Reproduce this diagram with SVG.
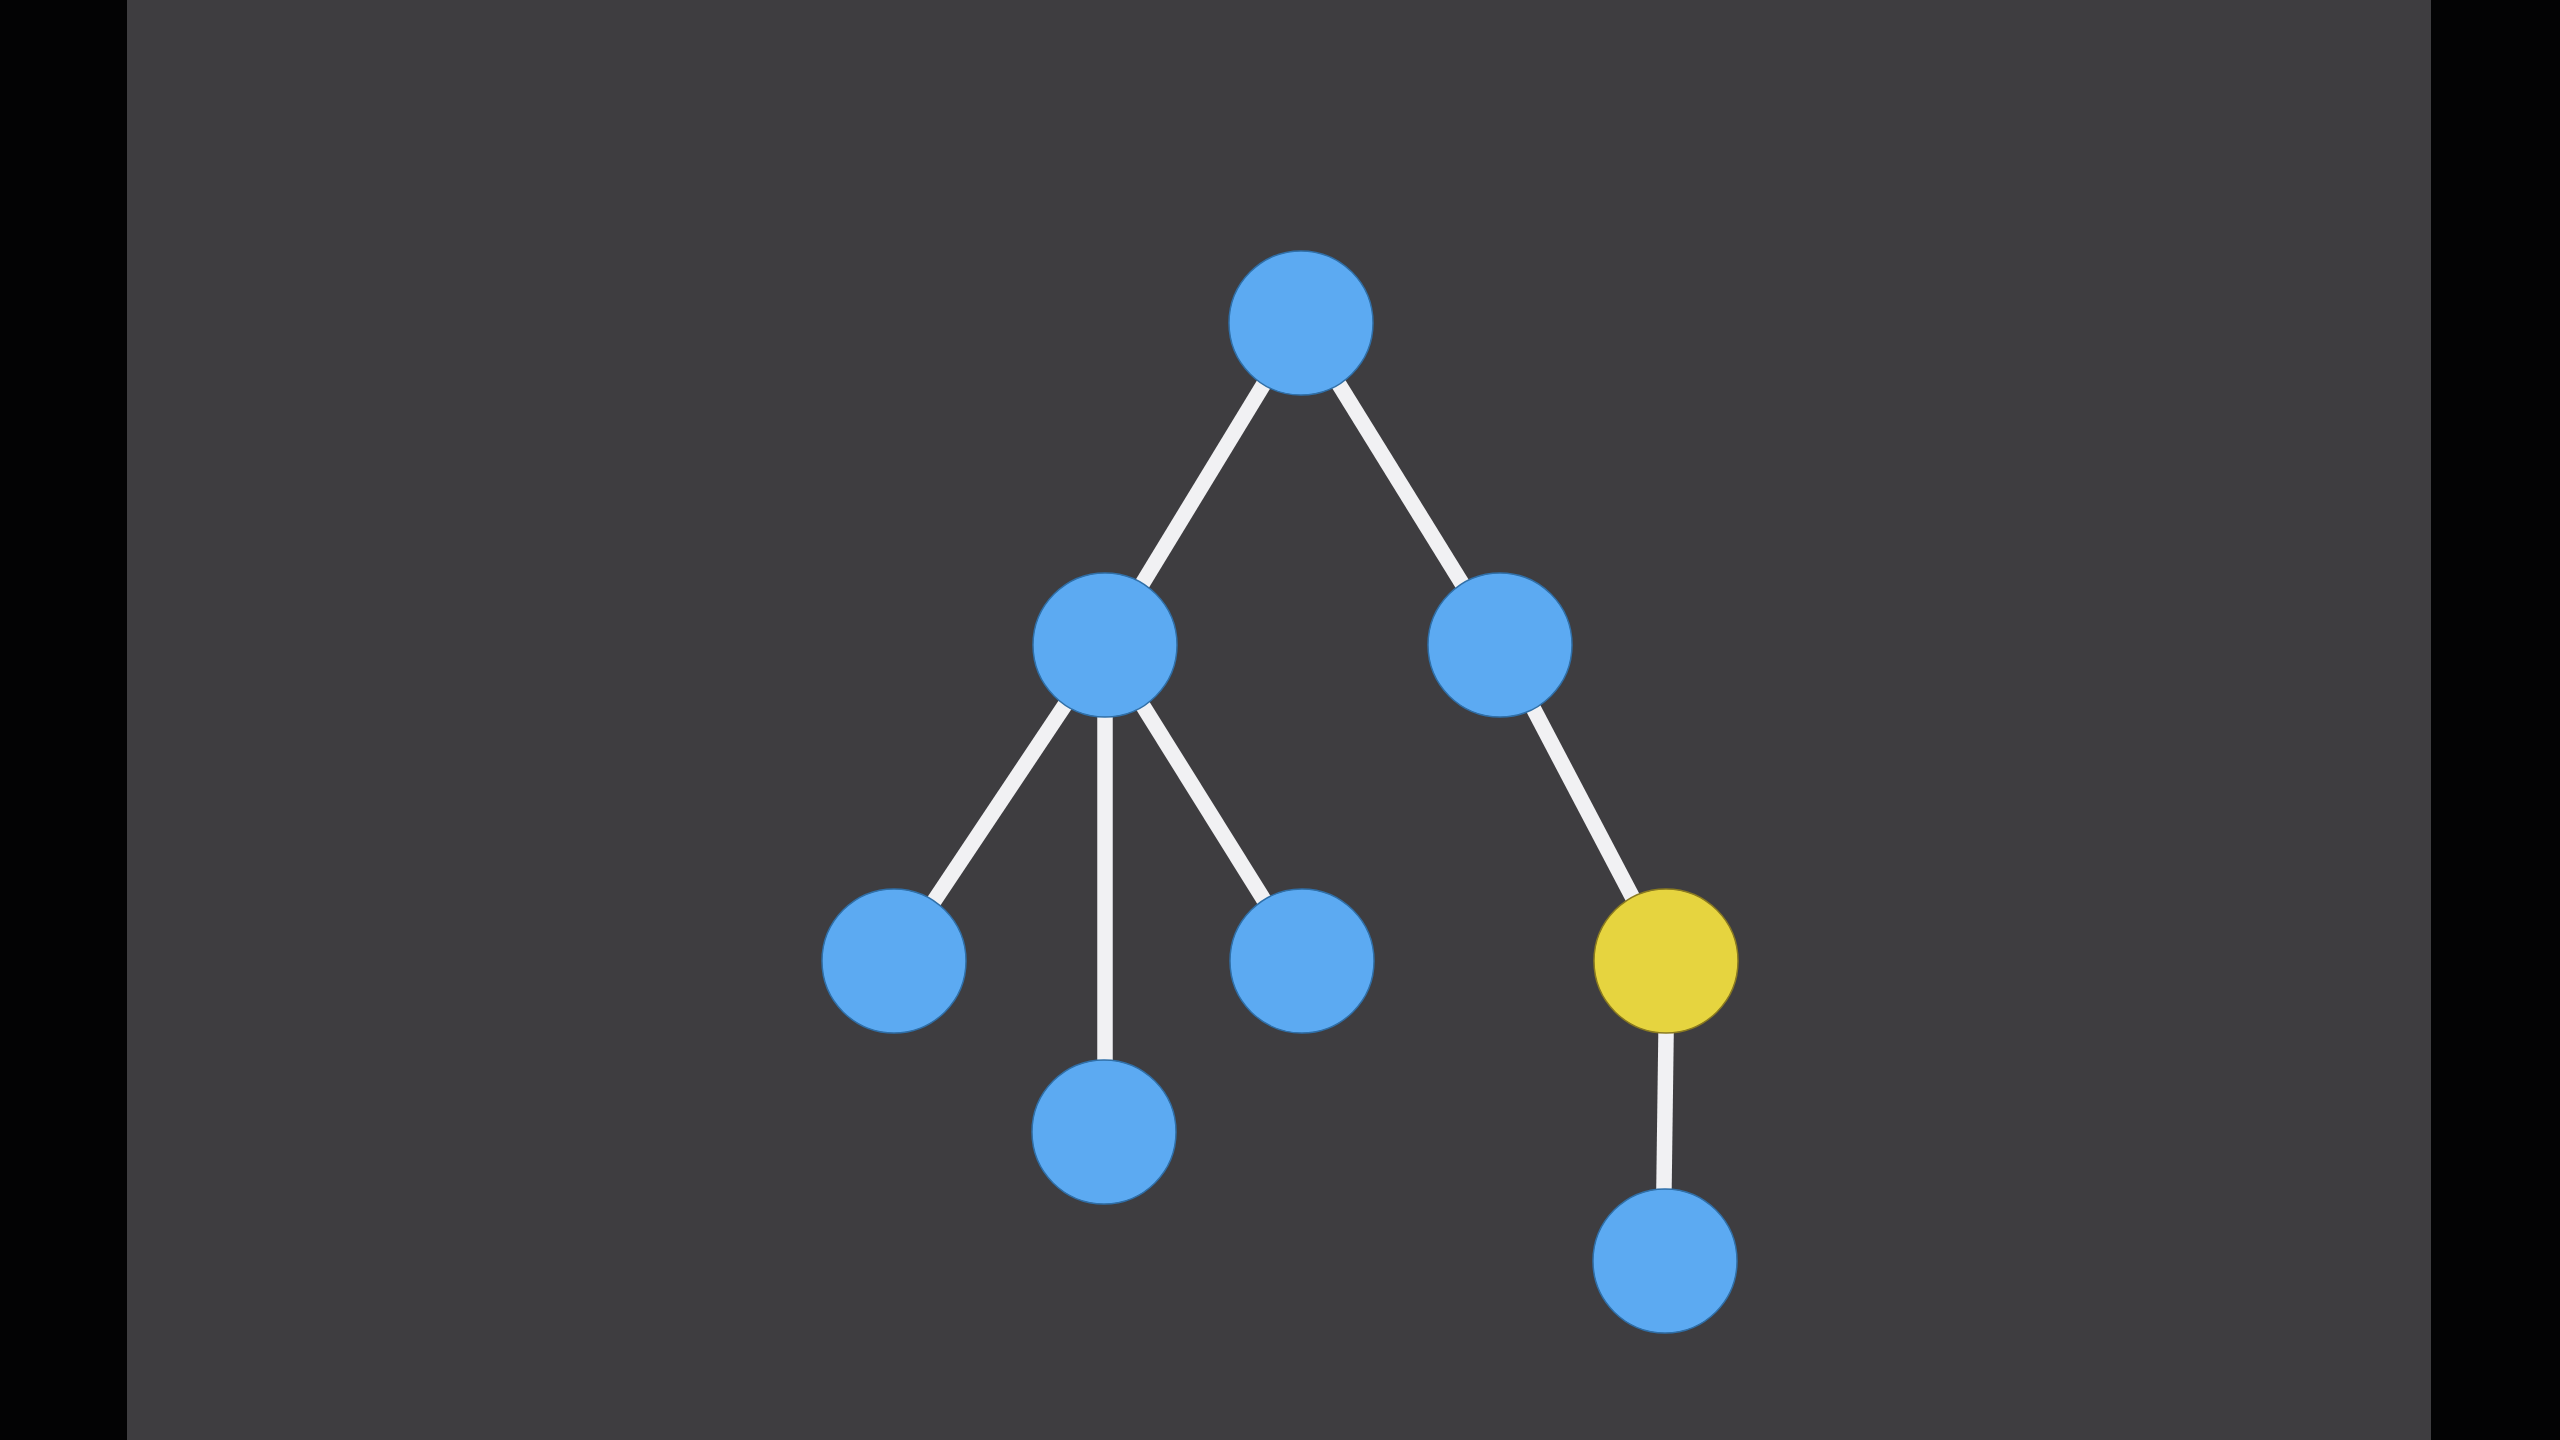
<svg xmlns="http://www.w3.org/2000/svg" width="2560" height="1440" viewBox="0 0 2560 1440">
  <style>
    .edge { stroke: #f1f1f3; stroke-width: 15.5; stroke-linecap: butt; fill: none; }
    .node { fill: #5caaf2; stroke: #2f6fa8; stroke-width: 1.5; }
    .node.hl { fill: #e6d43f; stroke: #8a7a20; }
  </style>
  <!-- letterbox and canvas -->
  <rect x="0" y="0" width="2560" height="1440" fill="#030304"/>
  <rect x="127" y="0" width="2304" height="1440" fill="#3e3d40"/>

  <g id="edges">
    <line class="edge" x1="1301" y1="323" x2="1105" y2="645"/>
    <line class="edge" x1="1301" y1="323" x2="1500" y2="645"/>
    <line class="edge" x1="1105" y1="645" x2="894" y2="961"/>
    <line class="edge" x1="1105" y1="645" x2="1105" y2="1132"/>
    <line class="edge" x1="1105" y1="645" x2="1302" y2="961"/>
    <line class="edge" x1="1500" y1="645" x2="1666" y2="961"/>
    <line class="edge" x1="1667" y1="961" x2="1663" y2="1261"/>
  </g>

  <g id="n-root"><circle class="node" cx="1301" cy="323" r="72"/></g>
  <g id="n-left"><circle class="node" cx="1105" cy="645" r="72"/></g>
  <g id="n-right"><circle class="node" cx="1500" cy="645" r="72"/></g>
  <g id="n-left-a"><circle class="node" cx="894" cy="961" r="72"/></g>
  <g id="n-left-b"><circle class="node" cx="1104" cy="1132" r="72"/></g>
  <g id="n-left-c"><circle class="node" cx="1302" cy="961" r="72"/></g>
  <g id="n-right-a"><circle class="node hl" cx="1666" cy="961" r="72"/></g>
  <g id="n-right-a-a"><circle class="node" cx="1665" cy="1261" r="72"/></g>
</svg>
